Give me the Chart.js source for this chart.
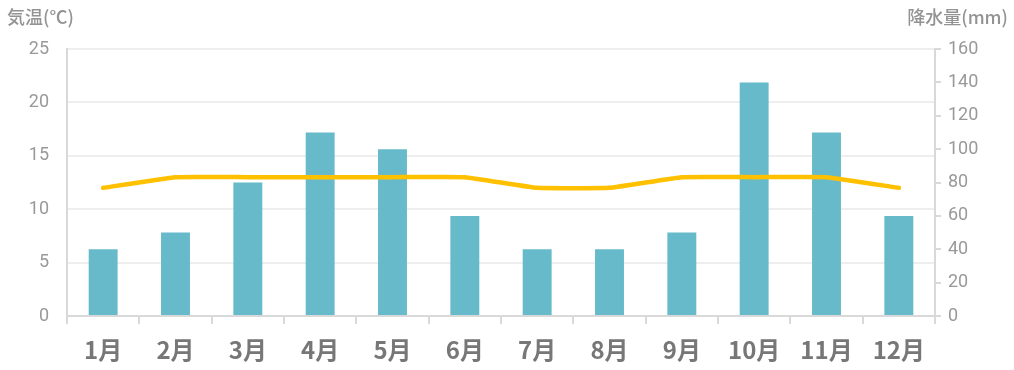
<!DOCTYPE html>
<html>
<head>
<meta charset="utf-8">
<script src="https://cdn.jsdelivr.net/npm/chart.js@4"></script>
<style>
  body { margin: 0; background: #fff; }
  #wrap { width: 1014px; height: 370px; }
</style>
</head>
<body>
<div id="wrap"><canvas id="chart" width="1014" height="370"></canvas></div>
<script>
const months = ['1月', '2月', '3月', '4月', '5月', '6月', '7月', '8月', '9月', '10月', '11月', '12月'];
const temperature = [12, 13, 13, 13, 13, 13, 12, 12, 13, 13, 13, 12];
const rainfall = [40, 50, 80, 110, 100, 60, 40, 40, 50, 140, 110, 60];
const leftTitle = '気温(℃)';
const rightTitle = '降水量(mm)';

const FONT = "Roboto, 'Noto Sans CJK JP', sans-serif";
const JP = "'Noto Sans CJK JP', sans-serif";

// axis titles sit in the top corners, horizontal
const cornerTitles = {
  id: 'cornerTitles',
  afterDraw(chart) {
    const ctx = chart.ctx;
    ctx.save();
    ctx.font = '500 18px ' + JP;
    ctx.fillStyle = '#939393';
    ctx.textBaseline = 'middle';
    ctx.textAlign = 'left';
    ctx.fillText(leftTitle, 7, 17);
    ctx.textAlign = 'right';
    ctx.fillText(rightTitle, 1008, 17);
    ctx.restore();
  }
};

new Chart(document.getElementById('chart').getContext('2d'), {
  data: {
    labels: months,
    datasets: [{
      type: 'line',
      label: leftTitle,
      data: temperature,
      yAxisID: 'y',
      borderColor: '#FFC000',
      borderWidth: 4.5,
      pointRadius: 0,
      tension: 0.1,
      borderCapStyle: 'round',
      order: 0
    }, {
      type: 'bar',
      label: rightTitle,
      data: rainfall,
      yAxisID: 'y1',
      backgroundColor: '#67BACA',
      barPercentage: 0.4,
      categoryPercentage: 1,
      order: 1
    }]
  },
  options: {
    responsive: false,
    animation: false,
    layout: { padding: { top: 49, left: 0, right: 0, bottom: 0 } },
    plugins: {
      legend: { display: false },
      tooltip: { enabled: false }
    },
    scales: {
      x: {
        afterFit(scale) { scale.height = 54; },
        grid: {
          offset: true,
          drawOnChartArea: false,
          tickLength: 8,
          color: '#d9d9d9',
          lineWidth: 2
        },
        border: { color: '#d9d9d9', width: 2 },
        ticks: {
          color: '#777',
          padding: 11,
          font: { family: JP, size: 24, weight: 'bold' }
        }
      },
      y: {
        position: 'left',
        min: 0,
        max: 25,
        afterFit(scale) { scale.width = 67; },
        grid: { color: '#eeeeee', lineWidth: 2, drawTicks: false },
        border: { color: '#d9d9d9', width: 2 },
        ticks: {
          stepSize: 5,
          color: '#999',
          padding: 18,
          font: { family: FONT, size: 18 }
        }
      },
      y1: {
        position: 'right',
        min: 0,
        max: 160,
        afterFit(scale) { scale.width = 79; },
        grid: { drawOnChartArea: false, tickLength: 6, color: '#d9d9d9', lineWidth: 2 },
        border: { color: '#d9d9d9', width: 2 },
        ticks: {
          stepSize: 20,
          color: '#999',
          padding: 7,
          font: { family: FONT, size: 18 }
        }
      }
    }
  },
  plugins: [cornerTitles]
});
</script>
</body>
</html>
